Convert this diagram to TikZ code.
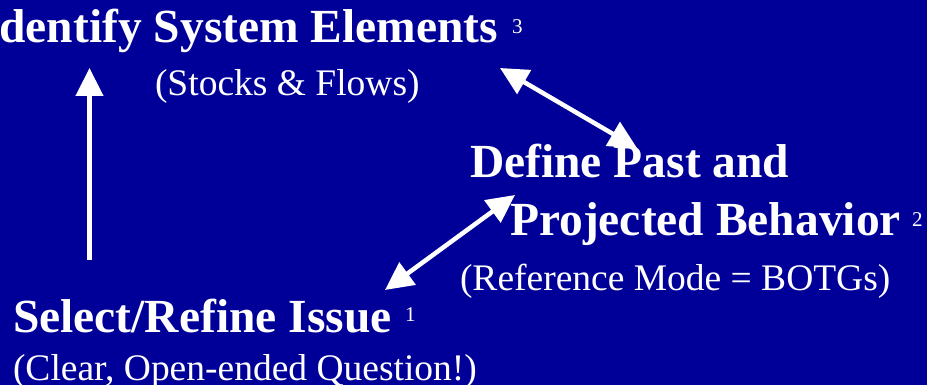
\documentclass[tikz,border=0pt]{standalone}
\usepackage{fontspec}
\setmainfont{Liberation Serif}
\usetikzlibrary{arrows.meta}
\definecolor{bg}{RGB}{0,0,153}
\begin{document}
\begin{tikzpicture}[x=1pt,y=-1pt,
  every node/.style={inner sep=0pt,outer sep=0pt,text=white},
  head/.style={font=\fontsize{47.5}{50}\selectfont\bfseries},
  sub/.style={font=\fontsize{37.5}{40}\selectfont},
  num/.style={font=\fontsize{21}{22}\selectfont},
  arr/.style={draw=white,line width=4.5pt,-{Triangle[length=28pt,width=27pt]}},
  darr/.style={draw=white,line width=4.5pt,{Triangle[length=28pt,width=27pt]}-{Triangle[length=28pt,width=27pt]}}]
\fill[bg] (0,0) rectangle (927,385);
\useasboundingbox (0,0) rectangle (927,385);

\node[head,anchor=base west] (ident) at (-19,43) {Identify System Elements};
\node[num,anchor=base west] (n3) at (512,34) {3};
\node[sub,anchor=base west] (stocks) at (155,96) {(Stocks \& Flows)};

\node[head,anchor=base west] (define) at (470,178) {Define Past and};
\node[head,anchor=base west] (proj) at (510,235) {Projected Behavior};
\node[num,anchor=base west] (n2) at (912,226) {2};
\node[sub,anchor=base west] (refmode) at (460,290) {(Reference Mode = BOTGs)};

\node[head,anchor=base west] (select) at (13,332) {Select/Refine Issue};
\node[num,anchor=base west] (n1) at (405,321) {1};
\node[sub,anchor=base west] (clear) at (13,380) {(Clear, Open-ended Question!)};

\coordinate (upstart) at (89.5,260);
\coordinate (uptip) at (89.5,68);
\coordinate (aTop) at (500,68);
\coordinate (aBot) at (637,148);
\coordinate (bTop) at (515,195);
\coordinate (bBot) at (385,290);

\draw[arr] (upstart) -- (uptip);
\draw[darr] (aTop) -- (aBot);
\draw[darr] (bTop) -- (bBot);
\end{tikzpicture}
\end{document}
